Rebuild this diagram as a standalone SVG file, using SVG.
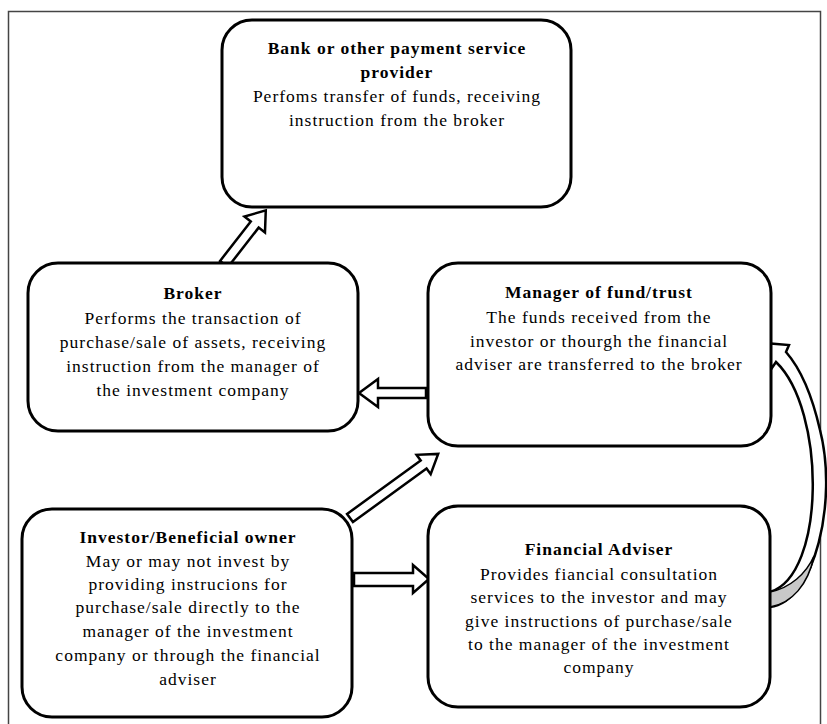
<svg xmlns="http://www.w3.org/2000/svg" width="827" height="724" viewBox="0 0 827 724">
<style>
.box{fill:#fff;stroke:#000;stroke-width:3}
.t{font-family:"Liberation Serif","Times New Roman",serif;font-size:17.5px;letter-spacing:1px;text-anchor:middle;fill:#000}
.b{font-weight:bold}
.arr{fill:#fff;stroke:#000;stroke-width:2.5;stroke-linejoin:miter}
</style>
<rect x="0" y="0" width="827" height="724" fill="#fff"/>
<rect x="8.5" y="11.5" width="812" height="720" fill="none" stroke="#444" stroke-width="1.5"/>
<g id="connectors">
<path class="arr" transform="translate(224,264) rotate(-52.1)" d="M0,-5 H50 V-13 L68,0 L50,13 V5 H0 Z"/>
<path class="arr" transform="translate(426,393) rotate(180)" d="M0,-5 H48 V-14 L67,0 L48,14 V5 H0 Z"/>
<path class="arr" transform="translate(350,518) rotate(-36)" d="M0,-5 H91 V-12 L109,0 L91,12 V5 H0 Z"/>
<path class="arr" d="M354,573 H413 V565 L429,579 L413,593 V586 H354 Z"/>
<g id="curved">
<path d="M770,607 C 815,602 838,500 820,430 C 812,395 800,368 786,352 L789,345 L764,343 L772,368 L776,362 C 826,410 826,575 770,592 Z" fill="#fff" stroke="#000" stroke-width="2.5" stroke-linejoin="miter"/>
<path d="M770,592 C 790,588 806,574 814,556 C 808,585 792,603 770,607 Z" fill="#c8c8c8" stroke="#000" stroke-width="1.5"/>
</g>
</g>
<g id="bank">
<rect class="box" x="222" y="20" width="349" height="187" rx="30"/>
<text class="t b" x="397" y="54">Bank or other payment  service</text>
<text class="t b" x="397" y="78">provider</text>
<text class="t" x="397" y="102">Perfoms  transfer of funds, receiving</text>
<text class="t" x="397" y="126">instruction  from the broker</text>
</g>
<g id="broker">
<rect class="box" x="28" y="263" width="330" height="168" rx="30"/>
<text class="t b" x="193" y="299">Broker</text>
<text class="t" x="193" y="324">Performs  the transaction  of</text>
<text class="t" x="193" y="348">purchase/sale of assets, receiving</text>
<text class="t" x="193" y="372">instruction  from the manager of</text>
<text class="t" x="193" y="396">the investment company</text>
</g>
<g id="manager">
<rect class="box" x="428" y="263" width="343" height="183" rx="30"/>
<text class="t b" x="599" y="298">Manager  of fund/trust</text>
<text class="t" x="599" y="323">The funds received from  the</text>
<text class="t" x="599" y="347">investor or thourgh  the financial</text>
<text class="t" x="599" y="370">adviser are transferred to the broker</text>
</g>
<g id="investor">
<rect class="box" x="22" y="509" width="330" height="208" rx="30"/>
<text class="t b" x="188" y="543">Investor/Beneficial  owner</text>
<text class="t" x="188" y="567">May or may  not  invest by</text>
<text class="t" x="188" y="590">providing instrucions for</text>
<text class="t" x="188" y="613">purchase/sale  directly to the</text>
<text class="t" x="188" y="637">manager  of the investment</text>
<text class="t" x="188" y="661">company or through  the financial</text>
<text class="t" x="188" y="685">adviser</text>
</g>
<g id="adviser">
<rect class="box" x="428" y="506" width="342" height="201" rx="30"/>
<text class="t b" x="599" y="555">Financial  Adviser</text>
<text class="t" x="599" y="580">Provides  fiancial  consultation</text>
<text class="t" x="599" y="603">services to the investor and may</text>
<text class="t" x="599" y="627">give instructions of purchase/sale</text>
<text class="t" x="599" y="650">to the manager  of the investment</text>
<text class="t" x="599" y="673">company</text>
</g>
</svg>
